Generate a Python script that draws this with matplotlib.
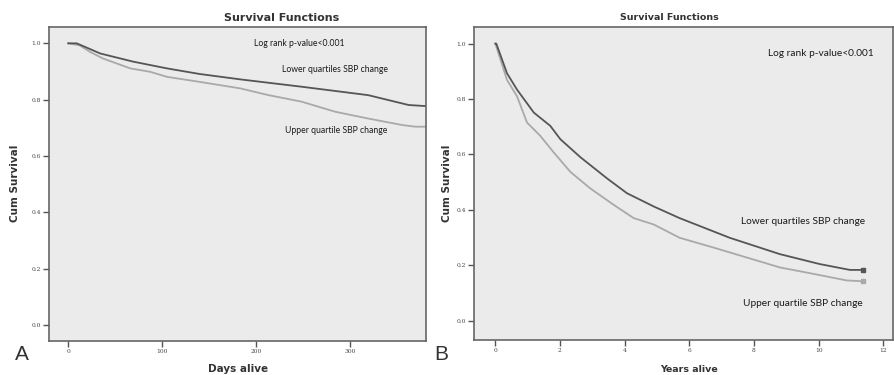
import matplotlib
matplotlib.use("Agg")
import matplotlib.pyplot as plt

# panel A: days alive
days_low = [0, 9, 34, 69, 105, 140, 183, 248, 319, 362, 381]
surv_low_a = [1.0, 1.0, 0.964, 0.935, 0.911, 0.891, 0.872, 0.846, 0.816, 0.781, 0.777]
days_up = [0, 12, 23, 37, 66, 87, 105, 140, 183, 213, 248, 284, 319, 355, 369, 381]
surv_up_a = [1.0, 0.993, 0.970, 0.946, 0.911, 0.899, 0.881, 0.863, 0.840, 0.816,
             0.793, 0.757, 0.733, 0.710, 0.704, 0.704]

# panel B: years alive
yrs_low = [0, 0.03, 0.36, 0.67, 1.19, 1.70, 2.01, 2.63, 3.46, 4.07, 4.90, 5.70,
           7.25, 8.80, 10.04, 10.97, 11.38]
surv_low_b = [1.0, 1.0, 0.893, 0.834, 0.751, 0.703, 0.655, 0.590, 0.513, 0.460,
              0.412, 0.370, 0.299, 0.240, 0.204, 0.183, 0.183]
yrs_up = [0, 0.10, 0.36, 0.67, 0.98, 1.39, 1.80, 2.32, 2.94, 3.66, 4.28, 4.90,
          5.70, 6.74, 7.77, 8.80, 9.83, 10.87, 11.38]
surv_up_b = [1.0, 0.964, 0.869, 0.810, 0.715, 0.667, 0.608, 0.537, 0.477, 0.418,
             0.370, 0.347, 0.299, 0.264, 0.228, 0.192, 0.169, 0.145, 0.142]

W, H = 894, 375
dark = "#555555"
light = "#a9a9a9"
bg = "#ebebeb"
tfont = ["Lato", "DejaVu Sans"]
tcol = "#1a1a1a"

fig = plt.figure(figsize=(W / 100, H / 100), dpi=100)


def px(x, y):
    return x / W, 1 - y / H


def style(ax, xt):
    ax.set_facecolor(bg)
    for s in ax.spines.values():
        s.set_color("#666666")
        s.set_linewidth(1.2)
    ax.set_xticks(xt)
    ax.set_yticks([0, 0.2, 0.4, 0.6, 0.8, 1.0])
    ax.set_yticklabels(["0.0", "0.2", "0.4", "0.6", "0.8", "1.0"])
    ax.tick_params(direction="out", length=4, width=1, color="#555555",
                   labelsize=4.3, labelcolor="#444444", pad=2)
    for lab in ax.get_xticklabels() + ax.get_yticklabels():
        lab.set_family("DejaVu Serif")


# ---- A ----
axA = fig.add_axes([49 / W, 1 - 341 / H, 377 / W, 314 / H])
axA.plot(days_up, surv_up_a, color=light, lw=1.3)
axA.plot(days_low, surv_low_a, color=dark, lw=1.3)
axA.set_xlim(-20.5, 380.5)
axA.set_ylim(-0.057, 1.058)
style(axA, [0, 100, 200, 300])

fig.text(*px(299, 44), "Log rank p-value<0.001", ha="center", va="center",
         fontsize=6.2, family=tfont, color=tcol)
fig.text(*px(335, 70), "Lower quartiles SBP change", ha="center", va="center",
         fontsize=6.2, family=tfont, color=tcol)
fig.text(*px(336, 131), "Upper quartile SBP change", ha="center", va="center",
         fontsize=6.2, family=tfont, color=tcol)
fig.text(*px(282, 18), "Survival Functions", ha="center", va="center",
         fontsize=8, fontweight="bold", color="#333333")
fig.text(*px(15, 183), "Cum Survival", ha="center", va="center", rotation=90,
         fontsize=7.5, fontweight="bold", color="#333333")
fig.text(*px(238, 369), "Days alive", ha="center", va="center",
         fontsize=7.5, fontweight="bold", color="#333333")
fig.text(*px(22, 355), "A", ha="center", va="center", fontsize=15,
         color="#333333", family="Liberation Sans")

# ---- B ----
axB = fig.add_axes([474 / W, 1 - 340 / H, 419 / W, 313 / H])
axB.plot(yrs_up, surv_up_b, color=light, lw=1.3)
axB.plot(yrs_low, surv_low_b, color=dark, lw=1.3)
axB.plot([yrs_up[-1]], [surv_up_b[-1]], "s", color=light, ms=3.5)
axB.plot([yrs_low[-1]], [surv_low_b[-1]], "s", color=dark, ms=3.5)
axB.set_xlim(-0.66, 12.3)
axB.set_ylim(-0.07, 1.06)
style(axB, [0, 2, 4, 6, 8, 10, 12])

fig.text(*px(821, 54), "Log rank p-value<0.001", ha="center", va="center",
         fontsize=7.3, family=tfont, color=tcol)
fig.text(*px(803, 221), "Lower quartiles SBP change", ha="center", va="center",
         fontsize=7.3, family=tfont, color=tcol)
fig.text(*px(803, 303), "Upper quartile SBP change", ha="center", va="center",
         fontsize=7.3, family=tfont, color=tcol)
fig.text(*px(669, 18), "Survival Functions", ha="center", va="center",
         fontsize=6.8, fontweight="bold", color="#333333")
fig.text(*px(447, 183), "Cum Survival", ha="center", va="center", rotation=90,
         fontsize=7.5, fontweight="bold", color="#333333")
fig.text(*px(689, 369), "Years alive", ha="center", va="center",
         fontsize=6.8, fontweight="bold", color="#333333")
fig.text(*px(441, 355), "B", ha="center", va="center", fontsize=15,
         color="#333333", family="Liberation Sans")

fig.savefig("out.png", dpi=100)
